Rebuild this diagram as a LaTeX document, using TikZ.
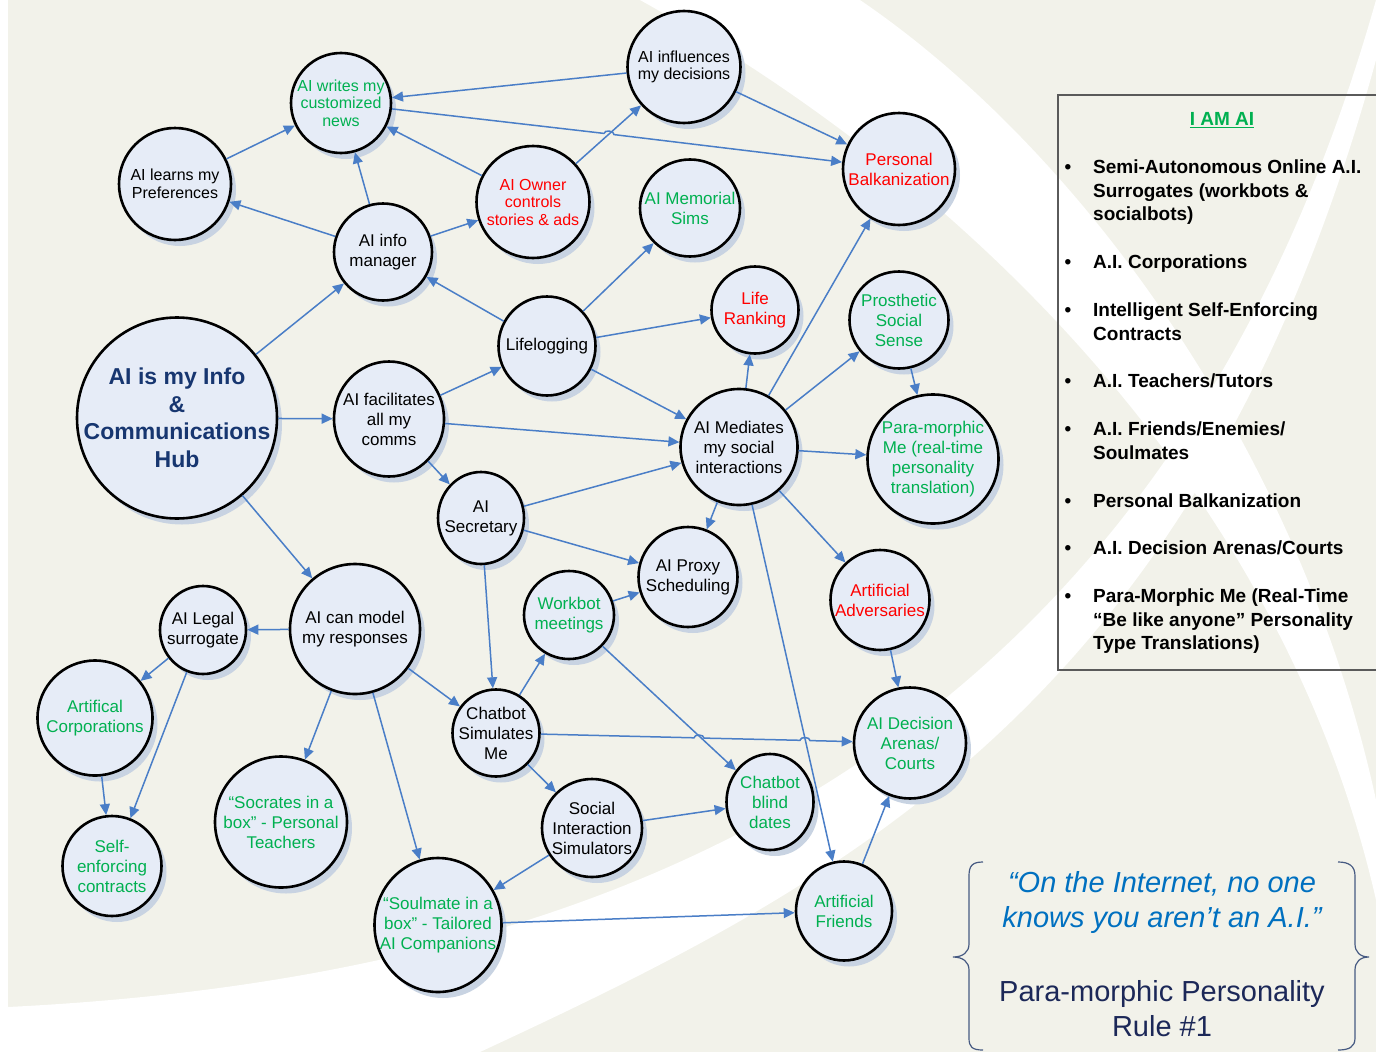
\documentclass[tikz,border=0pt]{standalone}
\usepackage{fontspec}
\setmainfont{Liberation Sans}
\usepackage{tikz}
\usetikzlibrary{shapes.geometric,shadows,arrows.meta}

\definecolor{bgbeige}{RGB}{242,242,234}
\definecolor{bubfill}{RGB}{230,236,247}
\definecolor{shadowc}{RGB}{200,211,226}
\definecolor{arrblue}{RGB}{74,126,199}
\definecolor{grn}{RGB}{0,176,80}
\definecolor{rd}{RGB}{255,0,0}
\definecolor{navy}{RGB}{23,54,112}
\definecolor{boxgray}{RGB}{90,90,90}
\definecolor{qblue}{RGB}{0,112,192}
\definecolor{rulenavy}{RGB}{28,40,88}
\definecolor{bracec}{RGB}{70,90,130}

\begin{document}
\begin{tikzpicture}[x=1pt,y=-1pt]

\tikzset{
  bub/.style={ellipse, draw=black, line width=2.6pt, fill=bubfill, inner sep=0pt,
    drop shadow={shadow xshift=5pt, shadow yshift=-6pt, fill=shadowc, opacity=1}},
  lbl/.style={align=center, inner sep=0pt, text=#1, font=\fontsize{17}{20}\selectfont},
  lbl/.default=black,
  sml/.style={font=\fontsize{16}{17.5}\selectfont},
  hubtxt/.style={align=center, inner sep=0pt, text=navy, font=\bfseries\fontsize{23}{27.5}\selectfont},
  arr/.style={draw=arrblue, line width=1.5pt, -{Triangle[length=11pt,width=10pt]}},
  bul/.style={anchor=north, inner sep=0pt, font=\bfseries\fontsize{19}{23.5}\selectfont},
  itm/.style={anchor=north west, align=left, inner sep=0pt, font=\bfseries\fontsize{19}{23.5}\selectfont},
  brc/.style={draw=bracec, line width=1.2pt}
}

\useasboundingbox (0,0) rectangle (1376,1052);

% background
\fill[white] (0,0) rectangle (1376,1052);
\fill[bgbeige] (8,0) rectangle (1376,1052);
\fill[white] (640,0) .. controls (1000,200) and (1290,520) .. (1376,900)
  -- (1376,800) .. controls (1300,450) and (1080,150) .. (860,0) -- cycle;
\fill[white] (8,1007) .. controls (550,980) and (1150,800) .. (1376,0)
  -- (1376,60) .. controls (1200,700) and (850,880) .. (480,1052)
  -- (8,1052) -- cycle;

% bubbles
\node[bub, minimum width=200pt, minimum height=201pt,
  label={[hubtxt]center:{AI is my Info\\\&\\Communications\\Hub}}] (hub) at (177,418) {};
\node[bub, minimum width=112pt, minimum height=112pt,
  label={[lbl, sml]center:{AI learns my\\Preferences}}] (learns) at (175,184) {};
\node[bub, minimum width=100pt, minimum height=100pt,
  label={[lbl=grn, sml]center:{AI writes my\\customized\\news}}] (writes) at (341,103) {};
\node[bub, minimum width=113pt, minimum height=112pt,
  label={[lbl, sml]center:{AI influences\\my decisions}}] (influences) at (684,67) {};
\node[bub, minimum width=112pt, minimum height=112pt,
  label={[lbl=rd]center:{Personal\\Balkanization}}] (balkan) at (899,169) {};
\node[bub, minimum width=113pt, minimum height=112pt,
  label={[lbl=rd, sml]center:{AI Owner\\controls\\stories \& ads}}] (owner) at (533,202) {};
\node[bub, minimum width=98pt, minimum height=97pt,
  label={[lbl]center:{AI info\\manager}}] (infomgr) at (383,252) {};
\node[bub, minimum width=100pt, minimum height=97pt,
  label={[lbl=grn]center:{AI Memorial\\Sims}}] (memorial) at (690,208) {};
\node[bub, minimum width=97pt, minimum height=99pt,
  label={[lbl]center:{Lifelogging}}] (lifelog) at (547,346) {};
\node[bub, minimum width=87pt, minimum height=87pt,
  label={[lbl=rd]center:{Life\\Ranking}}] (ranking) at (755,310) {};
\node[bub, minimum width=99pt, minimum height=97pt,
  label={[lbl=grn]center:{Prosthetic\\Social\\Sense}}] (prosth) at (899,320) {};
\node[bub, minimum width=110pt, minimum height=115pt,
  label={[lbl]center:{AI facilitates\\all my\\comms}}] (facil) at (389,419) {};
\node[bub, minimum width=117pt, minimum height=116pt,
  label={[lbl]center:{AI Mediates\\my social\\interactions}}] (mediates) at (739,447) {};
\node[bub, minimum width=131pt, minimum height=129pt,
  label={[lbl=grn]center:{Para-morphic\\Me (real-time\\personality\\translation)}}] (paramorph) at (933,459) {};
\node[bub, minimum width=86pt, minimum height=92pt,
  label={[lbl]center:{AI\\Secretary}}] (secretary) at (481,518) {};
\node[bub, minimum width=99pt, minimum height=100pt,
  label={[lbl]center:{AI Proxy\\Scheduling}}] (proxy) at (688,577) {};
\node[bub, minimum width=99pt, minimum height=100pt,
  label={[lbl=rd]center:{Artificial\\Adversaries}}] (advers) at (880,600) {};
\node[bub, minimum width=90pt, minimum height=88pt,
  label={[lbl=grn]center:{Workbot\\meetings}}] (workbot) at (569,615) {};
\node[bub, minimum width=86pt, minimum height=88pt,
  label={[lbl]center:{AI Legal\\surrogate}}] (legal) at (203,630) {};
\node[bub, minimum width=130pt, minimum height=130pt,
  label={[lbl]center:{AI can model\\my responses}}] (canmodel) at (355,629) {};
\node[bub, minimum width=115pt, minimum height=115pt,
  label={[lbl=grn]center:{Artifical\\Corporations}}] (artcorp) at (95,718) {};
\node[bub, minimum width=87pt, minimum height=87pt,
  label={[lbl]center:{Chatbot\\Simulates\\Me}}] (chatsim) at (496,733) {};
\node[bub, minimum width=112pt, minimum height=111pt,
  label={[lbl=grn]center:{AI Decision\\Arenas/\\Courts}}] (arenas) at (910,743) {};
\node[bub, minimum width=87pt, minimum height=96pt,
  label={[lbl=grn]center:{Chatbot\\blind\\dates}}] (blind) at (770,802) {};
\node[bub, minimum width=100pt, minimum height=98pt,
  label={[lbl]center:{Social\\Interaction\\Simulators}}] (social) at (592,828) {};
\node[bub, minimum width=99pt, minimum height=100pt,
  label={[lbl=grn]center:{Self-\\enforcing\\contracts}}] (selfenf) at (112,866) {};
\node[bub, minimum width=132pt, minimum height=131pt,
  label={[lbl=grn]center:{“Socrates in a\\box” - Personal\\Teachers}}] (socrates) at (281,822) {};
\node[bub, minimum width=127pt, minimum height=134pt,
  label={[lbl=grn]center:{“Soulmate in a\\box” - Tailored\\AI Companions}}] (soulmate) at (438,925) {};
\node[bub, minimum width=96pt, minimum height=99pt,
  label={[lbl=grn]center:{Artificial\\Friends}}] (friends) at (844,911) {};

% line hops
\coordinate (hopA1) at (604,133.4);
\coordinate (hopA2) at (614,134.6);
\coordinate (hopB1) at (694,737.8);
\coordinate (hopB2) at (704,738.1);
\coordinate (hopC1) at (800,740.3);
\coordinate (hopC2) at (810,740.6);

% connectors
\draw[arr] (hub) -- (infomgr);
\draw[arr] (hub) -- (facil);
\draw[arr] (hub) -- (canmodel);
\draw[arr] (infomgr) -- (learns);
\draw[arr] (infomgr) -- (writes);
\draw[arr] (infomgr) -- (owner);
\draw[arr] (learns) -- (writes);
\draw[arr] (owner) -- (writes);
\draw[arr] (owner) -- (influences);
\draw[arr] (influences) -- (writes);
\draw[arr] (influences) -- (balkan);
\draw[arr] (writes) -- (hopA1) to[bend left=90] (hopA2) -- (balkan);
\draw[arr] (lifelog) -- (infomgr);
\draw[arr] (lifelog) -- (memorial);
\draw[arr] (lifelog) -- (ranking);
\draw[arr] (lifelog) -- (mediates);
\draw[arr] (facil) -- (lifelog);
\draw[arr] (facil) -- (mediates);
\draw[arr] (facil) -- (secretary);
\draw[arr] (secretary) -- (mediates);
\draw[arr] (secretary) -- (proxy);
\draw[arr] (secretary) -- (chatsim);
\draw[arr] (mediates) -- (ranking);
\draw[arr] (mediates) -- (balkan);
\draw[arr] (mediates) -- (prosth);
\draw[arr] (mediates) -- (paramorph);
\draw[arr] (mediates) -- (proxy);
\draw[arr] (mediates) -- (advers);
\draw[arr] (mediates) -- (friends);
\draw[arr] (prosth) -- (paramorph);
\draw[arr] (advers) -- (arenas);
\draw[arr] (workbot) -- (proxy);
\draw[arr] (workbot) -- (blind);
\draw[arr] (canmodel) -- (legal);
\draw[arr] (canmodel) -- (chatsim);
\draw[arr] (canmodel) -- (socrates);
\draw[arr] (canmodel) -- (soulmate);
\draw[arr] (legal) -- (artcorp);
\draw[arr] (legal) -- (selfenf);
\draw[arr] (artcorp) -- (selfenf);
\draw[arr] (chatsim) -- (workbot);
\draw[arr] (chatsim) -- (hopB1) to[bend left=90] (hopB2) -- (hopC1) to[bend left=90] (hopC2) -- (arenas);
\draw[arr] (chatsim) -- (social);
\draw[arr] (social) -- (blind);
\draw[arr] (social) -- (soulmate);
\draw[arr] (soulmate) -- (friends);
\draw[arr] (friends) -- (arenas);

% I AM AI box
\draw[boxgray, line width=1.3pt] (1376,95) -- (1058,95) -- (1058,670) -- (1376,670);
\node[text=grn, font=\bfseries\fontsize{19}{23.5}\selectfont] (title) at (1222,120) {\underline{I AM AI}};
\node[bul] (b1) at (1068,157) {\strut\textbullet};
\node[itm] (i1) at (1093,157) {\strut Semi-Autonomous Online A.I.\\Surrogates (workbots \&\\socialbots)};
\node[bul] (b2) at (1068,252) {\strut\textbullet};
\node[itm] (i2) at (1093,252) {\strut A.I. Corporations};
\node[bul] (b3) at (1068,300) {\strut\textbullet};
\node[itm] (i3) at (1093,300) {\strut Intelligent Self-Enforcing\\Contracts};
\node[bul] (b4) at (1068,371) {\strut\textbullet};
\node[itm] (i4) at (1093,371) {\strut A.I. Teachers/Tutors};
\node[bul] (b5) at (1068,419) {\strut\textbullet};
\node[itm] (i5) at (1093,419) {\strut A.I. Friends/Enemies/\\Soulmates};
\node[bul] (b6) at (1068,491) {\strut\textbullet};
\node[itm] (i6) at (1093,491) {\strut Personal Balkanization};
\node[bul] (b7) at (1068,538) {\strut\textbullet};
\node[itm] (i7) at (1093,538) {\strut A.I. Decision Arenas/Courts};
\node[bul] (b8) at (1068,586) {\strut\textbullet};
\node[itm] (i8) at (1093,586) {\strut Para-Morphic Me (Real-Time\\“Be like anyone” Personality\\Type Translations)};

% quote with braces
\draw[brc] (983,862) .. controls (972,862) and (969,866) .. (969,876) -- (969,944)
  .. controls (969,952) and (963,957) .. (953,957)
  .. controls (963,957) and (969,962) .. (969,970) -- (969,1038)
  .. controls (969,1047) and (972,1050) .. (983,1050);
\draw[brc] (1338,862) .. controls (1349,862) and (1355,866) .. (1355,876) -- (1355,944)
  .. controls (1355,952) and (1360,957) .. (1369,957)
  .. controls (1360,957) and (1355,962) .. (1355,970) -- (1355,1038)
  .. controls (1355,1047) and (1349,1050) .. (1338,1050);
\node[align=center, text=qblue, font=\itshape\fontsize{29}{35}\selectfont] (quote) at (1162,902)
  {“On the Internet, no one\\knows you aren’t an A.I.”};
\node[align=center, text=rulenavy, font=\fontsize{29}{35}\selectfont] (rule) at (1162,1009)
  {Para-morphic Personality\\Rule \#1};

\end{tikzpicture}
\end{document}
